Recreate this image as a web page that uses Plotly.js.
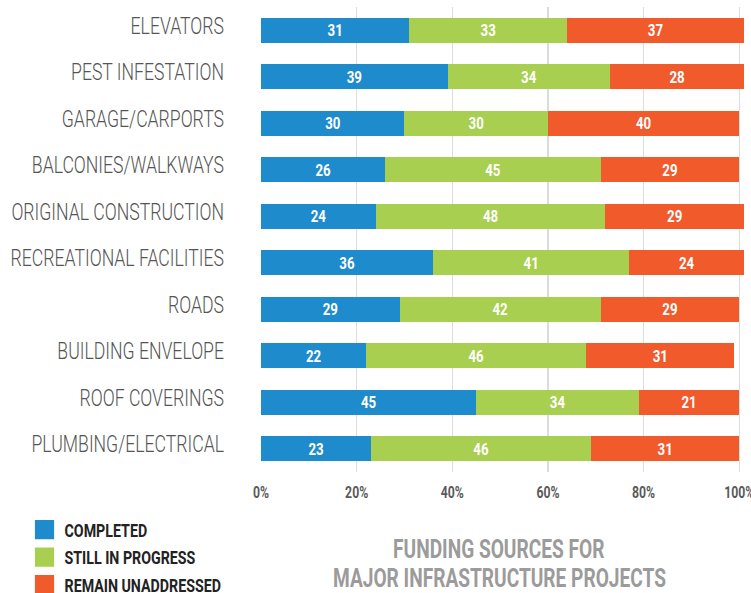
<!DOCTYPE html>
<html>
<head>
<meta charset="utf-8">
<script src="https://cdn.plot.ly/plotly-3.0.1.min.js"></script>
<style>
html,body{margin:0;padding:0;background:#fff;}
#chart{width:751px;height:593px;}
</style>
</head>
<body>
<div id="chart"></div>
<script>
const categories = [
  "ELEVATORS",
  "PEST INFESTATION",
  "GARAGE/CARPORTS",
  "BALCONIES/WALKWAYS",
  "ORIGINAL CONSTRUCTION",
  "RECREATIONAL FACILITIES",
  "ROADS",
  "BUILDING ENVELOPE",
  "ROOF COVERINGS",
  "PLUMBING/ELECTRICAL"
];
const completed       = [31, 39, 30, 26, 24, 36, 29, 22, 45, 23];
const stillInProgress = [33, 34, 30, 45, 48, 41, 42, 46, 34, 46];
const remainUnaddressed = [37, 28, 40, 29, 29, 24, 29, 31, 21, 31];
const seriesNames = ["COMPLETED", "STILL IN PROGRESS", "REMAIN UNADDRESSED"];
const tickValues = [0, 20, 40, 60, 80, 100];
const titleLines = ["FUNDING SOURCES FOR", "MAJOR INFRASTRUCTURE PROJECTS"];

const FONT = 'Roboto, "Liberation Sans", sans-serif';
const colors = ["#1e8bcd", "#a8cf4f", "#f15a2b"];
const series = [completed, stillInProgress, remainUnaddressed];

const traces = series.map((vals, i) => ({
  type: 'bar',
  orientation: 'h',
  name: seriesNames[i],
  legendgroup: 'g' + i,
  y: categories,
  x: vals,
  text: vals.map(String),
  textposition: 'inside',
  insidetextanchor: 'middle',
  textangle: 0,
  constraintext: 'none',
  textfont: {family: FONT, size: 17, color: '#ffffff', weight: 'bold'},
  marker: {color: colors[i], line: {width: 0}},
  hoverinfo: 'skip'
}));

const layout = {
  width: 751,
  height: 593,
  margin: {l: 261, r: 6, t: 7, b: 121, autoexpand: false},
  paper_bgcolor: '#ffffff',
  plot_bgcolor: '#ffffff',
  barmode: 'stack',
  bargap: 0.46,
  showlegend: true,
  font: {family: FONT},
  xaxis: {
    range: [0, 101.2],
    tickvals: tickValues,
    ticktext: tickValues.map(v => v + '%'),
    showgrid: true,
    gridcolor: '#dcdcdc',
    gridwidth: 1.5,
    zeroline: false,
    showline: false,
    ticks: '',
    ticklabelstandoff: 8,
    ticklabeloverflow: 'allow',
    tickfont: {family: FONT, size: 17, color: '#5a5a5a', weight: 'bold'},
    fixedrange: true
  },
  yaxis: {
    autorange: 'reversed',
    type: 'category',
    showgrid: false,
    zeroline: false,
    showline: false,
    ticks: '',
    ticklabelstandoff: 36,
    tickfont: {family: FONT, size: 24, color: '#555555', weight: 300},
    fixedrange: true
  },
  legend: {
    x: -0.4886,
    xanchor: 'left',
    y: -0.085,
    yanchor: 'top',
    orientation: 'v',
    traceorder: 'grouped',
    tracegroupgap: 1,
    font: {family: FONT, size: 18, color: '#222222', weight: 'bold'},
    bgcolor: 'rgba(0,0,0,0)',
    itemclick: false,
    itemdoubleclick: false
  },
  annotations: titleLines.map((t, i) => ({
    text: t,
    xref: 'paper', yref: 'paper',
    x: 0.492, y: i === 0 ? -0.1656 : -0.2269,
    xanchor: 'center', yanchor: 'middle',
    showarrow: false,
    font: {family: FONT, size: 26, color: '#9b9b9b', weight: 'bold'}
  }))
};

// condensed look: narrow each text horizontally (the reference uses a condensed face)
function condense(root, selector, factor) {
  root.querySelectorAll(selector).forEach(el => {
    const w = el.getComputedTextLength();
    if (w > 0) {
      el.setAttribute('textLength', (w * factor).toFixed(2));
      el.setAttribute('lengthAdjust', 'spacingAndGlyphs');
    }
  });
}

Plotly.newPlot('chart', traces, layout, {displayModeBar: false, staticPlot: true}).then(gd => {
  condense(gd, 'g.ytick text', 0.735);
  condense(gd, 'g.xtick text', 0.72);
  condense(gd, 'text.bartext', 0.78);
  condense(gd, 'text.legendtext', 0.79);
  condense(gd, 'text.annotation-text', 0.735);
  // category labels sit slightly above the bar centre in the reference
  gd.querySelectorAll('g.ytick text').forEach(t => {
    const y = parseFloat(t.getAttribute('y') || '0');
    t.setAttribute('y', (y - 5).toFixed(2));
  });
  // larger legend swatches
  gd.querySelectorAll('g.legendpoints path').forEach(p => {
    const tr = p.getAttribute('transform') || '';
    p.setAttribute('transform', tr + ' scale(1.6)');
  });
});
</script>
</body>
</html>
